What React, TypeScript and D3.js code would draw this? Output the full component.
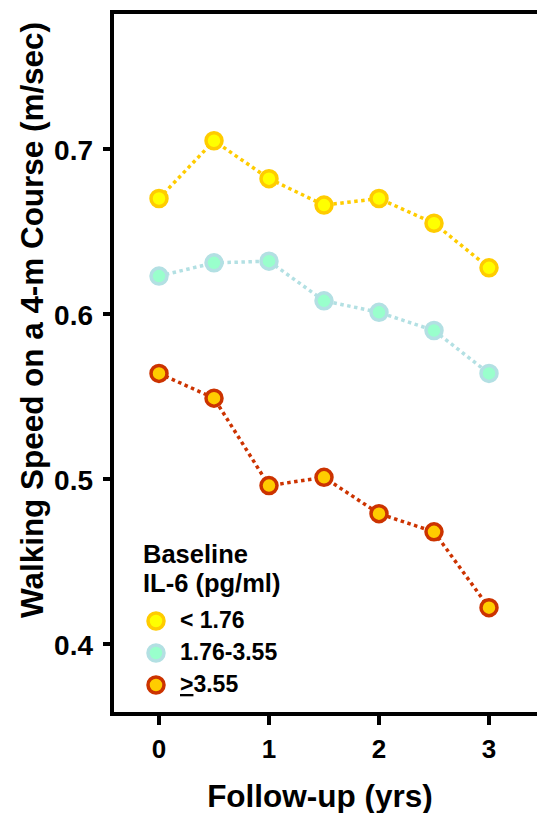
import React from "react";
import * as d3 from "d3";

const years = [0, 0.5, 1, 1.5, 2, 2.5, 3];
const lowIL6 = [0.670, 0.705, 0.682, 0.666, 0.670, 0.655, 0.628];
const midIL6 = [0.623, 0.631, 0.632, 0.608, 0.601, 0.590, 0.564];
const highIL6 = [0.564, 0.549, 0.496, 0.501, 0.479, 0.468, 0.422];
const seriesNames = ["< 1.76", "1.76-3.55", ">3.55"];
const yTicks = [0.4, 0.5, 0.6, 0.7];
const xTicks = [0, 1, 2, 3];

const styles = [
  { line: "#ffcc00", fill: "#ffff00", stroke: "#ffcc00" },
  { line: "#b3e0e3", fill: "#99ffcc", stroke: "#b3e0e3" },
  { line: "#cc3300", fill: "#ffcc00", stroke: "#cc3300" },
];

export default function App() {
  const W = 537, H = 813;
  const left = 112, right = 537, top = 12, bottom = 714;
  const x = d3.scaleLinear().domain([0, 3]).range([159, 489]);
  const y = d3.scaleLinear().domain([0.4, 0.7]).range([644, 149]);
  const data = [lowIL6, midIL6, highIL6];
  const line = d3.line<number>().x((_, i) => x(years[i])).y((d) => y(d));
  const font = "'Liberation Sans', Arial, sans-serif";

  return (
    <svg width={W} height={H} style={{ position: "absolute", left: 0, top: 0 }} fontFamily={font}>
      <rect x={0} y={0} width={W} height={H} fill="#fff" />
      {/* frame */}
      <path d={`M${right},${top}H${left}V${bottom}H${right}`} fill="none" stroke="#000" strokeWidth={4} />
      {/* y ticks */}
      {yTicks.map((t) => (
        <g key={t}>
          <line x1={103} x2={left} y1={y(t)} y2={y(t)} stroke="#000" strokeWidth={4} />
          <text x={93} y={y(t) + 11} textAnchor="end" fontSize={28} fontWeight="bold">{t.toFixed(1)}</text>
        </g>
      ))}
      {/* x ticks */}
      {xTicks.map((t) => (
        <g key={t}>
          <line x1={x(t)} x2={x(t)} y1={bottom} y2={725} stroke="#000" strokeWidth={4} />
          <text x={x(t)} y={758} textAnchor="middle" fontSize={26} fontWeight="bold">{t}</text>
        </g>
      ))}
      <text x={320} y={807} textAnchor="middle" fontSize={31.5} fontWeight="bold">Follow-up (yrs)</text>
      <text transform="translate(43,320) rotate(-90)" textAnchor="middle" fontSize={32} fontWeight="bold"
        textLength={596} lengthAdjust="spacingAndGlyphs">Walking Speed on a 4-m Course (m/sec)</text>
      {/* series */}
      {data.map((vals, si) => (
        <g key={si}>
          <path d={line(vals) || ""} fill="none" stroke={styles[si].line} strokeWidth={3.5} strokeDasharray="3.5 3.5" />
          {vals.map((v, i) => (
            <circle key={i} cx={x(years[i])} cy={y(v)} r={8} fill={styles[si].fill} stroke={styles[si].stroke} strokeWidth={3.5} />
          ))}
        </g>
      ))}
      {/* legend */}
      <text x={143} y={563} fontSize={25.5} fontWeight="bold">Baseline</text>
      <text x={143} y={592} fontSize={25.5} fontWeight="bold">IL-6 (pg/ml)</text>
      {seriesNames.map((n, i) => {
        const ly = 621 + i * 32;
        return (
          <g key={n}>
            <circle cx={156} cy={ly} r={8} fill={styles[i].fill} stroke={styles[i].stroke} strokeWidth={3.5} />
            {i === 2 ? (
              <text x={180} y={ly + 7} fontSize={23} fontWeight="bold">
                <tspan textDecoration="underline">{n.slice(0, 1)}</tspan>{n.slice(1)}
              </text>
            ) : (
              <text x={180} y={ly + 7} fontSize={23} fontWeight="bold">{n}</text>
            )}
          </g>
        );
      })}
    </svg>
  );
}
